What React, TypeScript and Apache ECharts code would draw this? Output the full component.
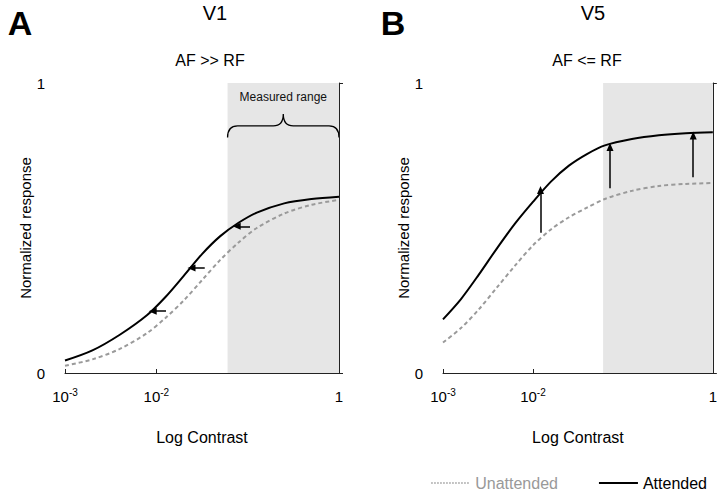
import React, { useEffect, useRef } from 'react';
import * as echarts from 'echarts';

// Log10 contrast samples and normalized responses
const logContrastA = [-3, -2.7, -2.4, -2.1, -1.9, -1.7, -1.5, -1.3, -1.1, -0.9, -0.6, -0.3, 0];
const attendedA = [0.043, 0.078, 0.132, 0.2, 0.262, 0.335, 0.41, 0.472, 0.518, 0.553, 0.585, 0.6, 0.608];
const unattendedA = [0.025, 0.047, 0.083, 0.138, 0.19, 0.25, 0.32, 0.39, 0.45, 0.5, 0.55, 0.58, 0.597];

const logContrastB = [-3, -2.8, -2.6, -2.4, -2.2, -2.0, -1.8, -1.6, -1.4, -1.2, -0.9, -0.6, -0.3, 0];
const attendedB = [0.185, 0.255, 0.34, 0.43, 0.515, 0.59, 0.66, 0.715, 0.755, 0.785, 0.807, 0.82, 0.827, 0.83];
const unattendedB = [0.105, 0.155, 0.22, 0.295, 0.37, 0.44, 0.495, 0.537, 0.57, 0.6, 0.628, 0.645, 0.652, 0.655];

// measured contrast range (log10)
const measuredRange = [-1.22, 0];
// brace levels: ends, bar, tip, label
const braceLevels = [0.812, 0.852, 0.893, 0.951];

// arrows: [xFrom, yFrom, xTo, yTo]
const arrowsA = [
  [-0.974, 0.506, -1.12, 0.506],
  [-1.47, 0.362, -1.615, 0.362],
  [-1.894, 0.213, -2.04, 0.213],
];
const arrowsB = [
  [-1.916, 0.484, -1.916, 0.631],
  [-1.143, 0.637, -1.143, 0.779],
  [-0.218, 0.675, -0.218, 0.819],
];

const xTickValues = [-3, -2, 0];
const yTickValues = [0, 1];

const FONT = 'Liberation Sans, Arial, sans-serif';

function zip(xs: number[], ys: number[]) {
  return xs.map((x, i) => [x, ys[i]]);
}

function arrowLines(arr: number[][]) {
  return arr.map((a) => [
    { coord: [a[0], a[1]], symbol: 'none' },
    { coord: [a[2], a[3]], symbol: 'triangle' },
  ]);
}

export default function App() {
  const ref = useRef<HTMLDivElement>(null);
  useEffect(() => {
    if (!ref.current) return;
    const chart = echarts.init(ref.current, undefined, { renderer: 'svg' });

    const xAxisBase = (gridIndex: number) => ({
      type: 'value',
      gridIndex,
      min: -3,
      max: 0,
      interval: 1,
      z: 10,
      name: 'Log Contrast',
      nameLocation: 'middle',
      nameGap: 56,
      nameTextStyle: { fontFamily: FONT, fontSize: 16, color: '#000' },
      splitLine: { show: false },
      axisLine: { show: true, lineStyle: { color: '#222', width: 1 } },
      axisTick: { show: true, inside: true, length: 4, customValues: xTickValues, lineStyle: { color: '#222' } },
      axisLabel: {
        customValues: xTickValues,
        margin: 14,
        fontFamily: FONT,
        fontSize: 15,
        color: '#000',
        formatter: (v: number) => (v === 0 ? '{b|1}' : '{b|10}{s|' + v + '}'),
        rich: {
          b: { fontFamily: FONT, fontSize: 15, color: '#000', lineHeight: 18 },
          s: { fontFamily: FONT, fontSize: 10, color: '#000', verticalAlign: 'top', lineHeight: 12, padding: [0, 0, 6, 0] },
        },
      },
    });

    const yAxisBase = (gridIndex: number) => ({
      type: 'value',
      gridIndex,
      min: 0,
      max: 1,
      interval: 1,
      z: 10,
      name: 'Normalized response',
      nameLocation: 'middle',
      nameGap: 30,
      nameTextStyle: { fontFamily: FONT, fontSize: 15, color: '#000' },
      splitLine: { show: false },
      axisLine: { show: true, lineStyle: { color: '#222', width: 1 } },
      axisTick: { show: true, inside: true, length: 4, customValues: yTickValues, lineStyle: { color: '#222' } },
      axisLabel: { margin: 20, fontFamily: FONT, fontSize: 15, color: '#000' },
    });

    const grayArea = (xi: number) => ({
      type: 'line',
      xAxisIndex: xi,
      yAxisIndex: xi,
      data: [],
      silent: true,
      z: 1,
      markArea: {
        silent: true,
        itemStyle: { color: '#e6e6e6' },
        data: [[{ xAxis: measuredRange[0], yAxis: 0 }, { xAxis: measuredRange[1], yAxis: 1 }]],
      },
    });

    const curve = (name: string, xi: number, data: number[][], solid: boolean, arrows?: number[][]) => ({
      type: 'line',
      name,
      xAxisIndex: xi,
      yAxisIndex: xi,
      data,
      smooth: 0.3,
      symbol: 'none',
      showSymbol: false,
      z: solid ? 4 : 3,
      silent: true,
      lineStyle: solid
        ? { color: '#000', width: 2 }
        : { color: '#9a9a9a', width: 2, type: [4, 3] },
      itemStyle: { color: solid ? '#000' : '#9a9a9a' },
      markLine: arrows
        ? {
            silent: true,
            animation: false,
            symbolSize: [7, 8],
            label: { show: false },
            lineStyle: { color: '#000', width: 1.5, type: 'solid' },
            emphasis: { disabled: true },
            data: arrowLines(arrows),
          }
        : undefined,
    });

    const brace = {
      type: 'custom',
      xAxisIndex: 0,
      yAxisIndex: 0,
      z: 5,
      silent: true,
      clip: false,
      data: [[measuredRange[0], braceLevels[0]]],
      renderItem: (params: any, api: any) => {
        const [x0, yEnd] = api.coord([measuredRange[0], braceLevels[0]]);
        const [x1] = api.coord([measuredRange[1], braceLevels[0]]);
        const [, yMid] = api.coord([measuredRange[0], braceLevels[1]]);
        const [, yTip] = api.coord([measuredRange[0], braceLevels[2]]);
        const [, yText] = api.coord([measuredRange[0], braceLevels[3]]);
        const xm = (x0 + x1) / 2;
        const r = 10;
        const d =
          `M${x0} ${yEnd} Q${x0} ${yMid} ${x0 + r} ${yMid} L${xm - r} ${yMid} ` +
          `Q${xm} ${yMid} ${xm} ${yTip} Q${xm} ${yMid} ${xm + r} ${yMid} ` +
          `L${x1 - r} ${yMid} Q${x1} ${yMid} ${x1} ${yEnd}`;
        return {
          type: 'group',
          children: [
            { type: 'path', shape: { pathData: d }, style: { stroke: '#000', fill: 'none', lineWidth: 1.3 } },
            {
              type: 'text',
              x: xm,
              y: yText,
              style: { text: 'Measured range', fontFamily: FONT, fontSize: 12, fill: '#111', align: 'center', verticalAlign: 'middle' },
            },
          ],
        };
      },
    };

    const txt = (text: string, x: number, y: number, size: number, bold = false) => ({
      type: 'text',
      x,
      y,
      style: {
        text,
        fontFamily: FONT,
        fontSize: size,
        fontWeight: bold ? 'bold' : 'normal',
        fill: '#000',
        align: 'center',
        verticalAlign: 'middle',
      },
    });

    const hidden = { color: 'rgba(0,0,0,0)', borderWidth: 0, opacity: 0 };

    chart.setOption({
      animation: false,
      backgroundColor: '#fff',
      grid: [
        { left: 65, right: 381, top: 83, bottom: 121 },
        { left: 443, right: 4, top: 83, bottom: 121 },
      ],
      xAxis: [xAxisBase(0), xAxisBase(1)],
      yAxis: [yAxisBase(0), yAxisBase(1)],
      legend: {
        right: 8,
        top: 470,
        itemWidth: 39,
        itemHeight: 14,
        itemGap: 40,
        textStyle: { fontFamily: FONT, fontSize: 16, color: '#000', lineHeight: 16 },
        data: [
          {
            name: 'Unattended',
            itemStyle: hidden,
            lineStyle: { type: 'dotted', width: 1.5, color: '#9a9a9a' },
            textStyle: { color: '#999' },
          },
          {
            name: 'Attended',
            itemStyle: hidden,
            lineStyle: { type: 'solid', width: 2, color: '#000' },
            textStyle: { color: '#000' },
          },
        ],
      },
      graphic: [
        txt('A', 20, 23, 34, true),
        txt('B', 393, 23, 34, true),
        txt('V1', 215, 13, 20),
        txt('V5', 593, 13, 20),
        txt('AF >> RF', 210, 60, 16),
        txt('AF <= RF', 587, 60, 16),
      ],
      series: [
        grayArea(0),
        grayArea(1),
        curve('Unattended', 0, zip(logContrastA, unattendedA), false),
        curve('Attended', 0, zip(logContrastA, attendedA), true, arrowsA),
        curve('Unattended', 1, zip(logContrastB, unattendedB), false),
        curve('Attended', 1, zip(logContrastB, attendedB), true, arrowsB),
        brace,
      ],
    });
    return () => chart.dispose();
  }, []);
  return <div ref={ref} style={{ width: 720, height: 494, position: 'absolute', left: 0, top: 0 }} />;
}
